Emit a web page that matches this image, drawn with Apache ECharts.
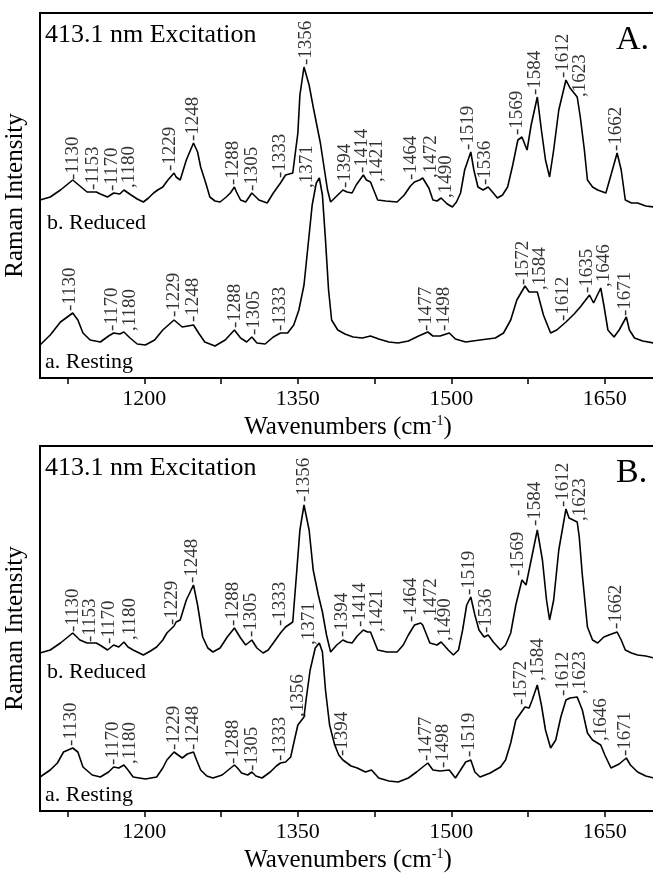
<!DOCTYPE html>
<html>
<head>
<meta charset="utf-8">
<script src="https://cdn.jsdelivr.net/npm/echarts@6/dist/echarts.min.js"></script>
<style>
  html, body { margin: 0; padding: 0; background: #fff; }
  #chart { width: 653px; height: 874px; }
</style>
</head>
<body>
<div id="chart"></div>
<script>
// spectra as [wavenumber, intensity] (intensity in arbitrary units, offsets as drawn)
const aReduced = [[1098,178],[1108,181],[1118,188],[1130,198],[1137,192],[1144,186],[1153,186],[1157,184],[1164,181],[1170,185],[1176,184],[1180,188],[1187,183],[1193,179],[1199,176],[1204,180],[1209,185],[1213,188],[1218,191],[1223,198],[1229,205],[1231,201],[1235,198],[1241,218],[1248,235],[1252,226],[1255,211],[1260,195],[1264,181],[1269,177],[1274,176],[1280,181],[1284,185],[1288,191],[1290,186],[1294,178],[1299,176],[1305,185],[1308,182],[1312,178],[1320,175],[1326,185],[1333,195],[1338,203],[1345,205],[1350,245],[1352,283],[1356,311],[1361,293],[1365,271],[1372,235],[1376,208],[1379,188],[1382,176],[1387,181],[1394,188],[1398,186],[1403,185],[1407,193],[1414,203],[1417,198],[1421,196],[1428,178],[1436,177],[1447,176],[1454,183],[1460,192],[1464,196],[1469,198],[1472,200],[1478,190],[1482,178],[1486,177],[1490,180],[1496,174],[1501,171],[1505,176],[1509,185],[1513,208],[1519,226],[1522,208],[1526,191],[1531,188],[1536,191],[1541,185],[1545,180],[1550,183],[1555,191],[1560,213],[1565,238],[1569,241],[1574,228],[1578,253],[1584,281],[1588,248],[1592,218],[1596,201],[1600,228],[1605,268],[1612,298],[1616,290],[1623,281],[1626,261],[1630,228],[1633,198],[1638,191],[1643,188],[1651,185],[1656,203],[1662,225],[1666,208],[1670,178],[1676,175],[1682,175],[1690,172],[1698,171]];
const aResting = [[1098,33],[1108,43],[1118,56],[1130,65],[1135,58],[1140,45],[1147,38],[1157,36],[1165,42],[1170,45],[1176,44],[1180,46],[1186,40],[1193,34],[1201,33],[1210,38],[1218,48],[1229,58],[1237,51],[1248,53],[1253,45],[1259,36],[1269,32],[1279,38],[1288,48],[1294,40],[1300,36],[1305,41],[1310,35],[1318,34],[1326,41],[1333,45],[1340,45],[1346,53],[1351,68],[1356,93],[1360,133],[1364,173],[1368,195],[1371,200],[1374,183],[1377,138],[1380,88],[1383,58],[1389,48],[1396,44],[1404,41],[1413,40],[1421,42],[1429,39],[1439,36],[1448,35],[1458,37],[1468,42],[1477,46],[1482,42],[1489,42],[1498,45],[1504,39],[1514,36],[1528,38],[1543,40],[1551,45],[1558,58],[1564,78],[1572,92],[1576,86],[1584,86],[1590,63],[1597,45],[1603,48],[1612,56],[1620,64],[1626,71],[1635,83],[1639,75],[1646,90],[1649,73],[1653,48],[1659,41],[1664,48],[1671,61],[1674,48],[1679,40],[1687,37],[1698,35]];
const bReduced = [[1098,158],[1108,161],[1118,168],[1130,178],[1137,171],[1144,168],[1153,168],[1158,165],[1164,161],[1170,166],[1175,164],[1180,169],[1184,164],[1189,161],[1199,156],[1206,160],[1212,164],[1218,171],[1222,178],[1229,185],[1231,189],[1235,191],[1241,211],[1248,226],[1252,206],[1257,174],[1262,163],[1267,159],[1274,163],[1281,174],[1288,183],[1294,173],[1299,166],[1305,171],[1310,163],[1316,158],[1321,161],[1326,168],[1333,178],[1338,184],[1345,189],[1349,241],[1352,281],[1356,306],[1361,281],[1365,241],[1370,216],[1374,199],[1378,176],[1382,159],[1388,166],[1394,171],[1398,169],[1403,168],[1408,175],[1414,181],[1418,179],[1421,179],[1428,161],[1437,159],[1447,159],[1453,166],[1458,176],[1464,186],[1470,188],[1472,186],[1479,168],[1486,166],[1490,169],[1497,161],[1502,156],[1507,161],[1511,181],[1515,206],[1519,214],[1523,196],[1527,181],[1532,174],[1536,176],[1541,169],[1548,161],[1553,166],[1558,178],[1563,206],[1569,231],[1573,226],[1578,251],[1584,281],[1589,251],[1593,211],[1596,191],[1600,211],[1605,261],[1612,302],[1615,293],[1623,289],[1625,274],[1628,236],[1633,184],[1638,171],[1643,168],[1649,174],[1654,176],[1662,179],[1666,171],[1670,161],[1676,158],[1682,156],[1690,155],[1698,153]];
const bResting = [[1098,34],[1108,41],[1115,48],[1121,59],[1130,63],[1135,59],[1140,44],[1149,36],[1157,34],[1165,39],[1170,44],[1175,43],[1180,46],[1184,41],[1189,34],[1201,32],[1212,34],[1218,43],[1222,51],[1229,59],[1233,56],[1237,53],[1242,57],[1248,59],[1251,51],[1255,41],[1261,35],[1267,33],[1276,36],[1282,41],[1288,46],[1291,43],[1295,38],[1301,36],[1305,39],[1309,35],[1315,33],[1323,39],[1329,45],[1333,48],[1338,49],[1343,54],[1346,68],[1350,86],[1356,94],[1358,111],[1362,141],[1367,163],[1371,168],[1374,159],[1377,121],[1381,86],[1386,66],[1390,56],[1394,51],[1402,45],[1408,43],[1416,39],[1422,41],[1429,33],[1439,30],[1448,29],[1458,33],[1466,39],[1477,48],[1482,41],[1489,40],[1498,41],[1504,33],[1509,41],[1514,49],[1519,51],[1523,39],[1528,34],[1538,38],[1548,44],[1553,51],[1558,68],[1563,91],[1572,104],[1576,103],[1579,111],[1584,126],[1588,106],[1592,81],[1597,63],[1602,71],[1607,94],[1612,111],[1616,113],[1623,114],[1628,101],[1633,78],[1638,71],[1646,66],[1650,56],[1656,43],[1664,47],[1671,53],[1675,46],[1682,39],[1690,35],[1698,33]];

// peak labels: [position, start height, text]
const aReducedLabels = [[1130,198,'-1130'],[1150,188,'-1153'],[1168,187,'-1170'],[1185,190,',1180'],[1225,207,'-1229'],[1248,237,'-1248'],[1287,193,'-1288'],[1305,187,'-1305'],[1333,200,'-1333'],[1358,313,'-1356'],[1396,190,'-1394'],[1413,205,'-1414'],[1427,196,',1421'],[1461,198,'-1464'],[1480,200,',1472'],[1495,180,',1490'],[1516,228,'-1519'],[1533,193,'-1536'],[1564,243,'-1569'],[1582,283,'-1584'],[1609,300,'-1612'],[1626,281,',1623'],[1661,227,'-1662']];
const aRestingLabels = [[1127,67,'-1130'],[1168,47,'-1170'],[1186,47,',1180'],[1229,61,'-1229'],[1248,56,'-1248'],[1289,50,'-1288'],[1307,43,'-1305'],[1333,47,'-1333'],[1359,190,',1371'],[1475,47,'-1477'],[1493,47,'-1498'],[1570,93,'-1572'],[1587,88,',1584'],[1609,57,'-1612'],[1633,85,'-1635'],[1649,91,',1646'],[1670,62,'-1671']];
const bReducedLabels = [[1130,179,'-1130'],[1147,169,'-1153'],[1165,167,'-1170'],[1186,171,',1180'],[1227,186,'-1229'],[1247,228,'-1248'],[1287,185,'-1288'],[1304,174,'-1305'],[1333,185,'-1333'],[1356,309,'-1356'],[1393,174,'-1394'],[1411,184,'-1414'],[1427,179,',1421'],[1461,189,'-1464'],[1480,190,',1472'],[1494,170,',1490'],[1517,216,'-1519'],[1534,178,'-1536'],[1565,235,'-1569'],[1582,285,'-1584'],[1609,304,'-1612'],[1626,290,',1623'],[1661,182,'-1662']];
const bRestingLabels = [[1128,65,'-1130'],[1169,46,'-1170'],[1186,47,',1180'],[1229,61,'-1229'],[1248,61,'-1248'],[1287,47,'-1288'],[1305,40,'-1305'],[1333,50,'-1333'],[1350,94,',1356'],[1361,166,',1371'],[1393,55,'-1394'],[1475,50,'-1477'],[1492,43,'-1498'],[1517,54,'-1519'],[1568,106,'-1572'],[1585,130,',1584'],[1609,115,'-1612'],[1626,117,',1623'],[1646,70,',1646'],[1670,55,'-1671']];

const tickValues = [1125, 1200, 1275, 1350, 1425, 1500, 1575, 1650];
const tickLabels = [1200, 1350, 1500, 1650];

const fam = '"Liberation Serif", "Times New Roman", serif';
const chart = echarts.init(document.getElementById('chart'));

const panelTops = [13, 446];
const grids = panelTops.map(t => ({ left: 40, top: t, width: 616, height: 365, show: true, borderColor: '#000', borderWidth: 2,
  backgroundColor: 'transparent', outerBoundsMode: 'none', containLabel: false }));

const xAxes = panelTops.map((t, i) => ({
  type: 'value', gridIndex: i, min: 1098, max: 1700,
  axisLine: { show: true, lineStyle: { color: '#000', width: 2 } },
  axisTick: { show: true, inside: false, length: 6, customValues: tickValues, lineStyle: { color: '#000', width: 1.5 } },
  axisLabel: { customValues: tickLabels, formatter: v => String(v), color: '#000', fontSize: 22, fontFamily: fam, margin: 10 },
  splitLine: { show: false },
  name: 'Wavenumbers (cm{sup|-1})',
  nameLocation: 'middle', nameGap: 36,
  nameTextStyle: { color: '#000', fontSize: 25, fontFamily: fam,
    rich: { sup: { fontSize: 14, fontFamily: fam, color: '#000', padding: [0, 0, 12, 0] } } }
}));

const yAxes = panelTops.map((t, i) => ({
  type: 'value', gridIndex: i, min: 0, max: 365,
  axisLine: { show: false }, axisTick: { show: false }, axisLabel: { show: false }, splitLine: { show: false },
  name: 'Raman Intensity', nameLocation: 'middle', nameGap: 12,
  nameTextStyle: { color: '#000', fontSize: 25, fontFamily: fam }
}));

function lineSeries(data, i) {
  return { type: 'line', xAxisIndex: i, yAxisIndex: i, data: data, showSymbol: false, symbol: 'none',
    lineStyle: { color: '#000', width: 1.6 }, silent: true, animation: false };
}
function labelSeries(data, i) {
  return { type: 'scatter', xAxisIndex: i, yAxisIndex: i, data: data, symbolSize: 0, silent: true, animation: false, z: 5,
    label: { show: true, position: 'inside', rotate: 90, align: 'left', verticalAlign: 'middle',
      formatter: p => p.data[2], color: '#000', fontSize: 19, fontFamily: fam } };
}

const texts = [];
panelTops.forEach((t, i) => {
  texts.push({ type: 'text', left: 45, top: t + 9, style: { text: '413.1 nm Excitation', font: '26px ' + fam, fill: '#000' } });
  texts.push({ type: 'text', left: 616, top: t + 10, style: { text: i === 0 ? 'A.' : 'B.', font: '34px ' + fam, fill: '#000' } });
  texts.push({ type: 'text', left: 47, top: t + (i === 0 ? 199 : 215), style: { text: 'b. Reduced', font: '22px ' + fam, fill: '#000' } });
  texts.push({ type: 'text', left: 45, top: t + 338, style: { text: 'a. Resting', font: '22px ' + fam, fill: '#000' } });
});

chart.setOption({
  animation: false,
  backgroundColor: '#fff',
  grid: grids,
  xAxis: xAxes,
  yAxis: yAxes,
  series: [
    lineSeries(aReduced, 0), lineSeries(aResting, 0),
    labelSeries(aReducedLabels, 0), labelSeries(aRestingLabels, 0),
    lineSeries(bReduced, 1), lineSeries(bResting, 1),
    labelSeries(bReducedLabels, 1), labelSeries(bRestingLabels, 1)
  ],
  graphic: texts
});
</script>
</body>
</html>
